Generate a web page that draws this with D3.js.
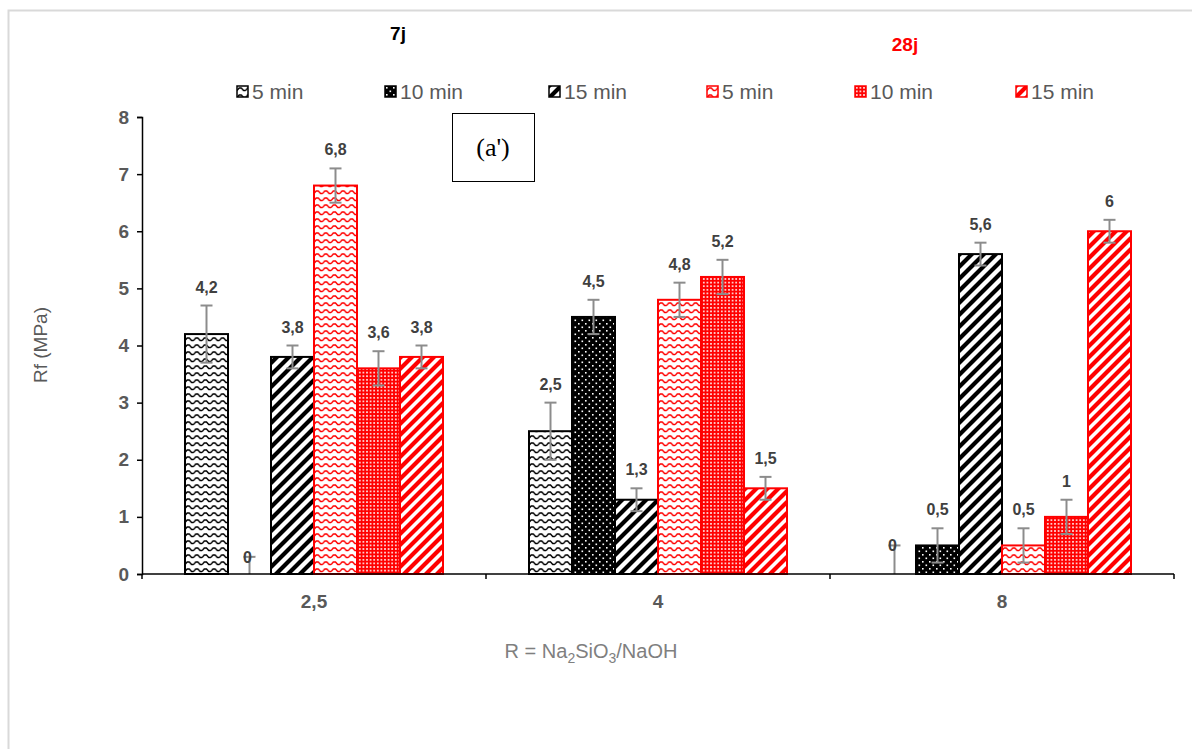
<!DOCTYPE html>
<html>
<head>
<meta charset="utf-8">
<script src="https://cdn.jsdelivr.net/npm/d3@7"></script>
<style>
  body { margin: 0; background: #fff; }
  svg { display: block; }
</style>
</head>
<body>
<svg id="chart" width="1192" height="749"></svg>
<script>
// ---------- data ----------
const categories = ["2,5", "4", "8"];
const seriesKeys = ["j7_5", "j7_10", "j7_15", "j28_5", "j28_10", "j28_15"];
const seriesLabels = ["5 min", "10 min", "15 min", "5 min", "10 min", "15 min"];
const ageLabels = ["7j", "28j"];
const yTicks = [0, 1, 2, 3, 4, 5, 6, 7, 8];

const values7j_5 = [4.2, 2.5, 0];
const values7j_10 = [0, 4.5, 0.5];
const values7j_15 = [3.8, 1.3, 5.6];
const values28j_5 = [6.8, 4.8, 0.5];
const values28j_10 = [3.6, 5.2, 1.0];
const values28j_15 = [3.8, 1.5, 6];

const err7j_5 = [0.5, 0.5, 0.5];
const err7j_10 = [0.3, 0.3, 0.3];
const err7j_15 = [0.2, 0.2, 0.2];
const err28j_5 = [0.3, 0.3, 0.3];
const err28j_10 = [0.3, 0.3, 0.3];
const err28j_15 = [0.2, 0.2, 0.2];

const seriesValues = [values7j_5, values7j_10, values7j_15, values28j_5, values28j_10, values28j_15];
const seriesErrors = [err7j_5, err7j_10, err7j_15, err28j_5, err28j_10, err28j_15];

// ---------- layout ----------
const svg = d3.select("#chart");
const FONT = "'Liberation Sans', Arial, sans-serif";
const plot = { left: 142, right: 1174, top: 117, bottom: 574 };

// outer light border
svg.append("rect").attr("x", 8.5).attr("y", 10.5).attr("width", 1200).attr("height", 760)
  .attr("fill", "none").attr("stroke", "#d9d9d9").attr("stroke-width", 2);

const x0 = d3.scaleBand().domain(categories).range([plot.left, plot.right]).padding(0);
const x1 = d3.scaleBand().domain(seriesKeys).range([0, x0.bandwidth()]).paddingInner(0).paddingOuter(1);
const y = d3.scaleLinear().domain([0, 8]).range([plot.bottom, plot.top]);

// ---------- patterns ----------
const defs = svg.append("defs");
function wave(id, color) {
  const p = defs.append("pattern").attr("id", id).attr("patternUnits", "userSpaceOnUse")
    .attr("width", 8.6).attr("height", 7);
  p.append("rect").attr("width", 8.6).attr("height", 7).attr("fill", "#fff");
  p.append("path").attr("d", "M0,4.5 L2.1,2 L4.3,2 L6.5,4.5 L8.6,4.5")
    .attr("fill", "none").attr("stroke", color).attr("stroke-width", 1.4);
}
function dots(id) {
  const p = defs.append("pattern").attr("id", id).attr("patternUnits", "userSpaceOnUse")
    .attr("width", 7).attr("height", 7);
  p.append("rect").attr("width", 7).attr("height", 7).attr("fill", "#000");
  p.append("rect").attr("x", 1).attr("y", 1).attr("width", 1.6).attr("height", 1.6).attr("fill", "#fff");
  p.append("rect").attr("x", 4.5).attr("y", 4.5).attr("width", 1.6).attr("height", 1.6).attr("fill", "#fff");
}
function smallGrid(id, color) {
  const p = defs.append("pattern").attr("id", id).attr("patternUnits", "userSpaceOnUse")
    .attr("width", 3.6).attr("height", 3.6);
  p.append("rect").attr("width", 3.6).attr("height", 3.6).attr("fill", color);
  p.append("rect").attr("x", 1).attr("y", 1).attr("width", 1.6).attr("height", 1.6).attr("fill", "#fff");
}
function diag(id, color, s) {
  const p = defs.append("pattern").attr("id", id).attr("patternUnits", "userSpaceOnUse")
    .attr("width", s).attr("height", s);
  p.append("rect").attr("width", s).attr("height", s).attr("fill", "#fff");
  p.append("path").attr("d", `M0,${s} L${s},0 M${-s/2},${s/2} L${s/2},${-s/2} M${s/2},${s*1.5} L${s*1.5},${s/2}`)
    .attr("stroke", color).attr("stroke-width", 4.2);
}
wave("p_j7_5", "#000");
dots("p_j7_10");
diag("p_j7_15", "#000", 12);
wave("p_j28_5", "#ff0000");
smallGrid("p_j28_10", "#ff0000");
diag("p_j28_15", "#ff0000", 11);

const strokeColor = k => k.startsWith("j7") ? "#000" : "#ff0000";

// ---------- axes ----------
const yAxis = d3.axisLeft(y).tickValues(yTicks).tickSize(5).tickPadding(8).tickFormat(d3.format("d"));
const gy = svg.append("g").attr("transform", `translate(${plot.left},0)`).call(yAxis);
gy.select(".domain").attr("stroke", "#000").attr("stroke-width", 1.5);
gy.selectAll(".tick line").attr("stroke", "#000").attr("stroke-width", 1.5);
gy.selectAll(".tick text").attr("font-family", FONT).attr("font-size", 19)
  .attr("fill", "#595959").attr("font-weight", "bold");

// ---------- bars ----------
const groups = svg.append("g").selectAll("g").data(categories).join("g")
  .attr("transform", d => `translate(${x0(d)},0)`);

const barData = (c, ci) => seriesKeys.map((k, si) => ({
  key: k, value: seriesValues[si][ci], err: seriesErrors[si][ci]
}));

groups.each(function (c, ci) {
  const g = d3.select(this);
  const data = barData(c, ci);
  g.selectAll("rect.bar").data(data.filter(d => d.value > 0)).join("rect")
    .attr("class", "bar")
    .attr("x", d => x1(d.key))
    .attr("y", d => y(d.value))
    .attr("width", x1.bandwidth())
    .attr("height", d => y(0) - y(d.value))
    .attr("fill", d => `url(#p_${d.key})`)
    .attr("stroke", d => strokeColor(d.key))
    .attr("stroke-width", 2);

  // error bars
  const eb = g.selectAll("g.err").data(data).join("g").attr("class", "err")
    .attr("transform", d => `translate(${x1(d.key) + x1.bandwidth() / 2},0)`);
  eb.append("line")
    .attr("y1", d => y(Math.max(0, d.value - d.err)))
    .attr("y2", d => y(d.value + d.err))
    .attr("stroke", "#8c8c8c").attr("stroke-width", 2);
  eb.append("line").attr("x1", -6).attr("x2", 6)
    .attr("y1", d => y(d.value + d.err)).attr("y2", d => y(d.value + d.err))
    .attr("stroke", "#8c8c8c").attr("stroke-width", 2);
  eb.filter(d => d.value - d.err > 0).append("line").attr("x1", -6).attr("x2", 6)
    .attr("y1", d => y(d.value - d.err)).attr("y2", d => y(d.value - d.err))
    .attr("stroke", "#8c8c8c").attr("stroke-width", 2);

  // value labels
  eb.append("text")
    .attr("x", d => d.value === 0 ? -2 : 0)
    .attr("y", d => d.value === 0 ? y(d.value + d.err) + 6 : y(d.value + d.err) - 13)
    .attr("text-anchor", "middle")
    .attr("font-family", FONT).attr("font-size", 16).attr("font-weight", "bold")
    .attr("fill", "#404040")
    .text(d => String(d.value).replace(".", ","));
});

// x axis (drawn over bars)
const xAxisG = svg.append("g");
xAxisG.append("line").attr("x1", plot.left).attr("x2", plot.right)
  .attr("y1", y(0)).attr("y2", y(0)).attr("stroke", "#000").attr("stroke-width", 1.5);
const bounds = categories.map(c => x0(c)).concat([plot.right]);
xAxisG.selectAll("line.tk").data(bounds).join("line").attr("class", "tk")
  .attr("x1", d => d).attr("x2", d => d).attr("y1", y(0)).attr("y2", y(0) + 5)
  .attr("stroke", "#000").attr("stroke-width", 1.5);
xAxisG.selectAll("text").data(categories).join("text")
  .attr("x", d => x0(d) + x0.bandwidth() / 2).attr("y", 608)
  .attr("text-anchor", "middle").attr("font-family", FONT).attr("font-size", 19)
  .attr("font-weight", "bold").attr("fill", "#595959").text(d => d);

// axis titles
svg.append("text").attr("transform", "translate(47,345) rotate(-90)")
  .attr("text-anchor", "middle").attr("font-family", FONT).attr("font-size", 19)
  .attr("fill", "#595959").text("Rf (MPa)");

const xt = svg.append("text").attr("x", 591).attr("y", 658).attr("text-anchor", "middle")
  .attr("font-family", FONT).attr("font-size", 20).attr("fill", "#7f7f7f");
xt.append("tspan").text("R = Na");
xt.append("tspan").attr("dy", 5).attr("font-size", 14).text("2");
xt.append("tspan").attr("dy", -5).text("SiO");
xt.append("tspan").attr("dy", 5).attr("font-size", 14).text("3");
xt.append("tspan").attr("dy", -5).text("/NaOH");

// age titles
svg.append("text").attr("x", 398).attr("y", 40).attr("text-anchor", "middle")
  .attr("font-family", FONT).attr("font-size", 19).attr("font-weight", "bold")
  .attr("fill", "#000").text(ageLabels[0]);
svg.append("text").attr("x", 905).attr("y", 51).attr("text-anchor", "middle")
  .attr("font-family", FONT).attr("font-size", 19).attr("font-weight", "bold")
  .attr("fill", "#ff0000").text(ageLabels[1]);

// legend
const legendX = [237, 385, 549, 707, 855, 1016];
const lg = svg.append("g").selectAll("g").data(seriesKeys).join("g")
  .attr("transform", (d, i) => `translate(${legendX[i]},86)`);
lg.append("rect").attr("width", 11).attr("height", 11)
  .attr("fill", d => `url(#p_${d})`).attr("stroke", d => strokeColor(d)).attr("stroke-width", 1.5);
lg.append("text").attr("x", 15).attr("y", 13).attr("font-family", FONT).attr("font-size", 21)
  .attr("fill", "#595959").text((d, i) => seriesLabels[i]);

// (a') box
svg.append("rect").attr("x", 452.5).attr("y", 113.5).attr("width", 82).attr("height", 68)
  .attr("fill", "#fff").attr("stroke", "#000").attr("stroke-width", 1);
svg.append("text").attr("x", 493).attr("y", 156).attr("text-anchor", "middle")
  .attr("font-family", "'Liberation Serif', 'Times New Roman', serif").attr("font-size", 26)
  .attr("fill", "#000").text("(a')");
</script>
</body>
</html>
